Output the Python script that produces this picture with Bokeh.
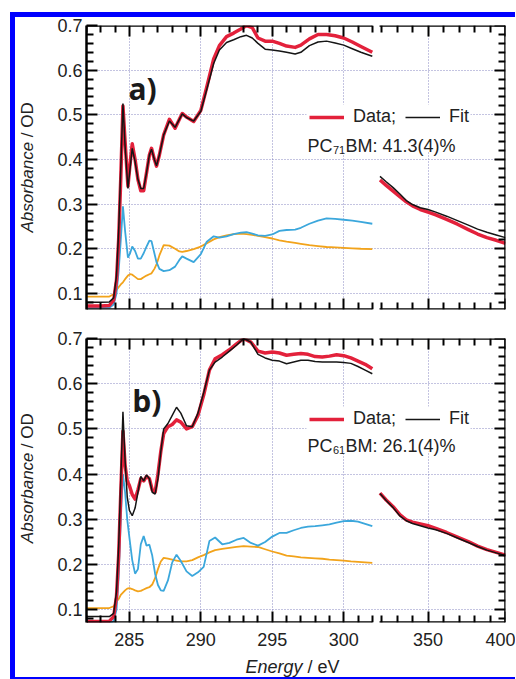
import math
from bokeh.plotting import figure
from bokeh.models import (ColumnDataSource, Range1d, LinearAxis, Grid, FixedTicker,
                          Label, Legend, LegendItem, BoxAnnotation, Div, Spacer)
from bokeh.layouts import column, row
from bokeh.embed import file_html
from bokeh.resources import INLINE

# ---------------- data ----------------
# panel a, low-energy segment
A_E = [282.0, 283.0, 283.6, 283.9, 284.1, 284.25, 284.4, 284.55, 284.7, 284.9, 285.05, 285.2,
       285.4, 285.6, 285.8, 286.0, 286.2, 286.4, 286.55, 286.75, 286.9, 287.1, 287.4, 287.8,
       288.2, 288.5, 288.7, 289.0, 289.5, 290.0, 290.4, 290.9, 291.3, 291.8, 292.3, 292.8,
       293.2, 293.6, 294.0, 294.5, 295.0, 295.5, 296.0, 296.6, 297.0, 297.6, 298.2, 298.8,
       299.4, 300.0, 300.6, 301.2, 302.0]
A_DATA = [0.072, 0.072, 0.073, 0.085, 0.13, 0.22, 0.36, 0.52, 0.44, 0.34, 0.39, 0.435,
          0.40, 0.355, 0.33, 0.33, 0.37, 0.41, 0.425, 0.40, 0.385, 0.41, 0.455, 0.49,
          0.47, 0.49, 0.503, 0.495, 0.485, 0.51, 0.56, 0.625, 0.655, 0.675, 0.683, 0.692,
          0.70, 0.695, 0.672, 0.665, 0.665, 0.66, 0.654, 0.651, 0.656, 0.670, 0.680, 0.680,
          0.677, 0.672, 0.663, 0.653, 0.640]
A_FIT = [0.080, 0.080, 0.081, 0.09, 0.14, 0.24, 0.38, 0.525, 0.43, 0.335, 0.38, 0.425,
         0.395, 0.355, 0.335, 0.335, 0.37, 0.41, 0.423, 0.40, 0.386, 0.41, 0.455, 0.486,
         0.472, 0.49, 0.502, 0.494, 0.486, 0.508, 0.555, 0.615, 0.645, 0.662, 0.668, 0.675,
         0.678, 0.672, 0.660, 0.647, 0.645, 0.643, 0.640, 0.636, 0.640, 0.655, 0.663, 0.665,
         0.661, 0.656, 0.648, 0.640, 0.631]
A_COMP1 = [0.068, 0.068, 0.068, 0.075, 0.10, 0.15, 0.22, 0.295, 0.24, 0.18, 0.19, 0.205,
           0.195, 0.178, 0.178, 0.19, 0.205, 0.218, 0.217, 0.19, 0.17, 0.155, 0.150, 0.152,
           0.16, 0.175, 0.183, 0.178, 0.170, 0.188, 0.215, 0.228, 0.225, 0.228, 0.233, 0.236,
           0.237, 0.234, 0.230, 0.229, 0.232, 0.240, 0.242, 0.243, 0.247, 0.256, 0.263, 0.268,
           0.267, 0.265, 0.263, 0.260, 0.256]
A_COMP2 = [0.093, 0.093, 0.093, 0.098, 0.108, 0.114, 0.120, 0.125, 0.132, 0.140, 0.143, 0.142,
           0.137, 0.132, 0.132, 0.136, 0.140, 0.143, 0.145, 0.155, 0.165, 0.185, 0.208, 0.207,
           0.200, 0.194, 0.193, 0.195, 0.199, 0.205, 0.212, 0.221, 0.226, 0.230, 0.233, 0.234,
           0.233, 0.231, 0.229, 0.226, 0.223, 0.219, 0.216, 0.213, 0.211, 0.208, 0.206, 0.204,
           0.203, 0.202, 0.201, 0.200, 0.199]

# high-energy segment (both panels)
HI_E = [319, 323, 327.5, 332, 336, 340, 345, 350, 355, 362, 369, 376, 382, 388, 394, 400]
A_DATA_HI = [0.354, 0.342, 0.329, 0.316, 0.305, 0.296, 0.288, 0.282, 0.276, 0.266, 0.255,
             0.243, 0.233, 0.225, 0.219, 0.212]
A_FIT_HI = [0.362, 0.350, 0.337, 0.322, 0.308, 0.299, 0.292, 0.288, 0.282, 0.273, 0.263,
            0.253, 0.244, 0.237, 0.231, 0.225]

# panel b, low-energy segment
B_E = [282.0, 283.0, 283.6, 283.9, 284.1, 284.25, 284.4, 284.55, 284.7, 284.85, 285.0, 285.2,
       285.4, 285.6, 285.8, 286.0, 286.2, 286.4, 286.6, 286.8, 287.0, 287.2, 287.4, 287.7,
       288.0, 288.3, 288.6, 289.0, 289.4, 289.8, 290.2, 290.6, 291.0, 291.5, 292.0, 292.5,
       293.0, 293.5, 294.0, 294.5, 295.0, 295.5, 296.0, 296.5, 297.0, 297.5, 298.0, 298.5,
       299.0, 299.5, 300.0, 300.5, 301.0, 301.5, 302.0]
B_DATA = [0.074, 0.074, 0.075, 0.085, 0.13, 0.22, 0.36, 0.495, 0.42, 0.385, 0.375, 0.355,
          0.345, 0.365, 0.39, 0.385, 0.395, 0.39, 0.365, 0.36, 0.40, 0.45, 0.49, 0.505,
          0.51, 0.52, 0.515, 0.50, 0.505, 0.53, 0.575, 0.63, 0.655, 0.664, 0.675, 0.688,
          0.700, 0.692, 0.672, 0.668, 0.670, 0.668, 0.663, 0.665, 0.667, 0.665, 0.660, 0.659,
          0.661, 0.664, 0.662, 0.657, 0.650, 0.643, 0.633]
B_FIT = [0.085, 0.085, 0.085, 0.092, 0.14, 0.24, 0.39, 0.538, 0.43, 0.35, 0.32, 0.308,
         0.325, 0.36, 0.395, 0.385, 0.398, 0.39, 0.36, 0.356, 0.39, 0.45, 0.50, 0.512,
         0.53, 0.548, 0.535, 0.507, 0.505, 0.535, 0.58, 0.63, 0.648, 0.659, 0.672, 0.685,
         0.700, 0.692, 0.665, 0.657, 0.652, 0.650, 0.644, 0.648, 0.652, 0.652, 0.649, 0.648,
         0.648, 0.648, 0.647, 0.645, 0.638, 0.630, 0.622]
B_COMP1 = [0.07, 0.07, 0.07, 0.075, 0.10, 0.17, 0.30, 0.40, 0.36, 0.30, 0.26, 0.21,
           0.18, 0.19, 0.245, 0.263, 0.242, 0.244, 0.22, 0.18, 0.155, 0.143, 0.142, 0.165,
           0.205, 0.222, 0.208, 0.185, 0.175, 0.183, 0.195, 0.252, 0.260, 0.245, 0.248, 0.255,
           0.259, 0.248, 0.242, 0.250, 0.262, 0.270, 0.270, 0.276, 0.281, 0.284, 0.285, 0.287,
           0.289, 0.293, 0.296, 0.297, 0.295, 0.290, 0.285]
B_COMP2 = [0.104, 0.104, 0.104, 0.108, 0.118, 0.124, 0.133, 0.138, 0.143, 0.147, 0.148, 0.146,
           0.143, 0.141, 0.142, 0.145, 0.148, 0.150, 0.156, 0.170, 0.190, 0.207, 0.215, 0.213,
           0.211, 0.209, 0.207, 0.207, 0.210, 0.216, 0.221, 0.227, 0.232, 0.235, 0.237, 0.239,
           0.241, 0.240, 0.239, 0.234, 0.229, 0.225, 0.220, 0.218, 0.216, 0.215, 0.214, 0.213,
           0.211, 0.210, 0.209, 0.207, 0.206, 0.205, 0.204]
B_DATA_HI = [0.358, 0.343, 0.328, 0.310, 0.299, 0.294, 0.290, 0.286, 0.280, 0.271, 0.261,
             0.251, 0.241, 0.233, 0.227, 0.221]
B_FIT_HI = [0.357, 0.342, 0.326, 0.307, 0.297, 0.291, 0.286, 0.281, 0.277, 0.269, 0.259,
            0.249, 0.240, 0.232, 0.226, 0.220]

# ticks
X_MAJOR_LO = [285, 290, 295, 300]
X_MINOR_LO = [282, 283, 284, 286, 287, 288, 289, 291, 292, 293, 294, 296, 297, 298, 299, 301, 302]
X_MAJOR_HI = [350, 400]
X_MINOR_HI = [320, 330, 340, 360, 370, 380, 390]
Y_MAJOR = [0.1, 0.2, 0.3, 0.4, 0.5, 0.6, 0.7]
Y_MINOR = [0.08, 0.12, 0.14, 0.16, 0.18, 0.22, 0.24, 0.26, 0.28, 0.32, 0.34, 0.36, 0.38,
           0.42, 0.44, 0.46, 0.48, 0.52, 0.54, 0.56, 0.58, 0.62, 0.64, 0.66, 0.68]

# ---------------- geometry / style ----------------
FRAME_W, FRAME_H = 419, 284
FRAME_LEFT = 86
LO = (282.0, 302.0)
HI = (318.5, 400.0)
PX_PER_EV = 14.29
MAIN_END = LO[0] + FRAME_W / PX_PER_EV
HI_START_PX = 292.7
HI_SCALE = (FRAME_W - HI_START_PX) / (HI[1] - HI[0])
HI_RANGE = (HI[0] - HI_START_PX / HI_SCALE, HI[1])

PA_H = 8 + FRAME_H + 12
PB_H = 17 + FRAME_H + 33
XL_H = 660 - PA_H - PB_H


def hi_to_main(v):
    # position of a high-segment value expressed on the main (low-segment) scale
    return round(LO[0] + (v - HI_RANGE[0]) * HI_SCALE / PX_PER_EV, 4)


RED = "#e3213b"
BLACK = "#151515"
BLUE = "#3ba7dc"
ORANGE = "#f2a31b"
GRID_C = "#7c7cbc"
TXT = "#222222"
FONT = "Liberation Sans"
BLUE_FRAME = "#0000ff"


def text_fig(w, h):
    f = figure(width=w, height=h, x_range=Range1d(0, w), y_range=Range1d(0, h),
               x_axis_location=None, y_axis_location=None, toolbar_location=None,
               output_backend="svg", min_border=0, min_border_left=0, min_border_right=0,
               min_border_top=0, min_border_bottom=0, outline_line_color=None, title=None,
               background_fill_color="white", border_fill_color="white")
    f.center = [c for c in f.center if not isinstance(c, Grid)]
    return f


def make_panel(frame_top, yr, borders, e_lo, data_lo, fit_lo, comp1, comp2, data_hi, fit_hi,
               tag, tag_px, sub, pct, legend_py, row2_py, xlabels):
    y0, y1 = yr

    def ex(px):
        return LO[0] + (px - FRAME_LEFT) / PX_PER_EV

    def ay(py):
        return y1 - (py - frame_top) * (y1 - y0) / FRAME_H

    p = figure(frame_width=FRAME_W, frame_height=FRAME_H,
               x_range=Range1d(LO[0], MAIN_END), y_range=Range1d(y0, y1),
               x_axis_location=None, y_axis_location=None,
               toolbar_location=None, output_backend="svg",
               min_border_left=borders[0], min_border_right=borders[1],
               min_border_top=borders[2], min_border_bottom=borders[3],
               outline_line_color=None, background_fill_color="white",
               border_fill_color="white")
    p.extra_x_ranges = {"hi": Range1d(*HI_RANGE)}
    p.center = [c for c in p.center if not isinstance(c, Grid)]

    gkw = dict(grid_line_color=GRID_C, grid_line_dash="1 2", grid_line_width=1, grid_line_alpha=0.9)
    p.add_layout(Grid(dimension=0, ticker=FixedTicker(ticks=X_MAJOR_LO), **gkw))
    p.add_layout(Grid(dimension=0, x_range_name="hi", ticker=FixedTicker(ticks=[350]), **gkw))
    p.add_layout(Grid(dimension=1, ticker=FixedTicker(ticks=Y_MAJOR[:-1]), **gkw))

    ax_kw = dict(axis_line_color="black", axis_line_width=2.5,
                 major_tick_in=11, major_tick_out=0, minor_tick_in=7, minor_tick_out=0,
                 major_tick_line_color="black", major_tick_line_width=2,
                 minor_tick_line_color="black", minor_tick_line_width=2,
                 major_label_text_font=FONT, major_label_text_font_size="18px",
                 major_label_text_color=TXT)
    left = LinearAxis(ticker=FixedTicker(ticks=Y_MAJOR, minor_ticks=Y_MINOR),
                      major_label_standoff=4, **ax_kw)
    p.add_layout(left, "left")
    right = LinearAxis(ticker=FixedTicker(ticks=Y_MAJOR, minor_ticks=Y_MINOR),
                       fixed_location=MAIN_END, **ax_kw)
    right.major_label_text_color = None
    p.add_layout(right, "right")
    for side, loc in (("below", y0), ("above", y1)):
        for rname, major, minor, bnds in (("default", X_MAJOR_LO, X_MINOR_LO, LO),
                                          ("hi", X_MAJOR_HI, X_MINOR_HI, HI)):
            ax = LinearAxis(x_range_name=rname, bounds=bnds, fixed_location=loc,
                            ticker=FixedTicker(ticks=major, minor_ticks=minor), **ax_kw)
            ax.major_label_text_color = None
            p.add_layout(ax, side)

    if xlabels:
        # tick labels of both segments on one label-only axis below the frame
        hi_pos = [hi_to_main(v) for v in X_MAJOR_HI]
        lab_ax = LinearAxis(ticker=FixedTicker(ticks=X_MAJOR_LO + hi_pos, minor_ticks=[]),
                            major_label_overrides={pos: str(v) for pos, v in zip(hi_pos, X_MAJOR_HI)},
                            axis_line_color=None, major_tick_line_color=None,
                            minor_tick_line_color=None, major_tick_in=0, major_tick_out=0,
                            minor_tick_in=0, minor_tick_out=0, major_label_standoff=10,
                            axis_label_standoff=0,
                            major_label_text_font=FONT, major_label_text_font_size="18px",
                            major_label_text_color=TXT)
        p.add_layout(lab_ax, "below")

    lo = ColumnDataSource(dict(e=e_lo, data=data_lo, fit=fit_lo, c1=comp1, c2=comp2))
    hi = ColumnDataSource(dict(e=HI_E, data=data_hi, fit=fit_hi))
    p.line("e", "c2", source=lo, line_color=ORANGE, line_width=1.8)
    p.line("e", "c1", source=lo, line_color=BLUE, line_width=1.8)
    r_data = p.line("e", "data", source=lo, line_color=RED, line_width=3.5, line_join="round")
    p.line("e", "data", source=hi, x_range_name="hi", line_color=RED, line_width=3.5, line_join="round")
    r_fit = p.line("e", "fit", source=lo, line_color=BLACK, line_width=1.5)
    p.line("e", "fit", source=hi, x_range_name="hi", line_color=BLACK, line_width=1.5)

    # white legend box
    p.add_layout(BoxAnnotation(left=ex(306), right=ex(470), top=ay(legend_py - 13),
                               bottom=ay(row2_py + 6), fill_color="white", fill_alpha=1.0,
                               line_color=None))
    frame_bottom = frame_top + FRAME_H
    leg = Legend(items=[LegendItem(label="Data;", renderers=[r_data]),
                        LegendItem(label="Fit", renderers=[r_fit])],
                 orientation="horizontal", location=(309 - FRAME_LEFT, frame_bottom - legend_py - 10),
                 background_fill_alpha=0, border_line_color=None, padding=0, margin=0,
                 spacing=9, label_standoff=9, glyph_width=35, glyph_height=20, label_height=20,
                 label_text_font=FONT, label_text_font_size="18px", label_text_color=TXT)
    p.add_layout(leg)

    lk = dict(x_units="data", y_units="data", text_font=FONT, text_color=TXT,
              text_baseline="alphabetic", text_align="left")
    xa, ya = ex(307), ay(row2_py)
    p.add_layout(Label(x=xa, y=ya, text="PC", text_font_size="18px", **lk))
    p.add_layout(Label(x=xa, y=ya, text=sub, text_font_size="11px", x_offset=25.5, y_offset=-4, **lk))
    p.add_layout(Label(x=xa, y=ya, text=pct, text_font_size="18px", x_offset=38, **lk))

    # panel tag
    p.add_layout(Label(x=ex(tag_px[0]), y=ay(tag_px[1]), text=tag, text_font="Open Sans",
                       text_font_style="bold", text_font_size="30px", text_color="#1a1a1a",
                       text_baseline="alphabetic", text_align="left"))
    return p


def ylabel_fig(h, split_y):
    # "Absorbance" (italic) ends just below split_y, "/ OD" starts just above it
    f = text_fig(25, h)
    yk = dict(text_font=FONT, text_color=TXT, text_font_size="17px", text_baseline="middle",
              angle=math.pi / 2)
    f.add_layout(Label(x=12, y=split_y - 2.5, text="Absorbance", text_font_style="italic",
                       text_align="right", **yk))
    f.add_layout(Label(x=12, y=split_y + 2.5, text="/ OD", text_align="left", **yk))
    return f


pa = make_panel(25, (0.064, 0.70), (46, 10, 8, 12), A_E, A_DATA, A_FIT, A_COMP1, A_COMP2,
                A_DATA_HI, A_FIT_HI, "a)", (128, 88), "71", "BM: 41.3(4)%", 117, 145, False)
pb = make_panel(338, (0.072, 0.70), (46, 10, 17, 33), B_E, B_DATA, B_FIT, B_COMP1, B_COMP2,
                B_DATA_HI, B_FIT_HI, "b)", (131.7, 400), "61", "BM: 26.1(4)%", 419, 445, True)

# split points in each label strip (measured upward from the strip bottom)
ya_fig = ylabel_fig(PA_H, (17 + PA_H) - 139)
yb_fig = ylabel_fig(PB_H, (17 + PA_H + PB_H) - 452.5)

# x-axis title strip: text centred vertically in the strip so it is not clipped
xl_fig = text_fig(500, XL_H)
xk = dict(text_font=FONT, text_color=TXT, text_font_size="18px", text_baseline="middle")
xl_fig.add_layout(Label(x=287, y=XL_H / 2, text="Energy", text_font_style="italic",
                        text_align="right", **xk))
xl_fig.add_layout(Label(x=292, y=XL_H / 2, text="/ eV", text_align="left", **xk))

top_bar = Div(text="", width=505, height=5, margin=0, styles={"background-color": BLUE_FRAME})
left_bar = Div(text="", width=5, height=660, margin=0, styles={"background-color": BLUE_FRAME})
bottom_bar = Div(text="", width=505, height=2, margin=0, styles={"background-color": BLUE_FRAME})

content = column(row(ya_fig, pa), row(yb_fig, pb), xl_fig)
root = column(
    Spacer(width=515, height=12),
    row(Spacer(width=10, height=5), top_bar),
    row(Spacer(width=10, height=660), left_bar, content),
    row(Spacer(width=10, height=2), bottom_bar),
)

open("out.html", "w").write(file_html(root, INLINE, title="Absorbance fits"))
